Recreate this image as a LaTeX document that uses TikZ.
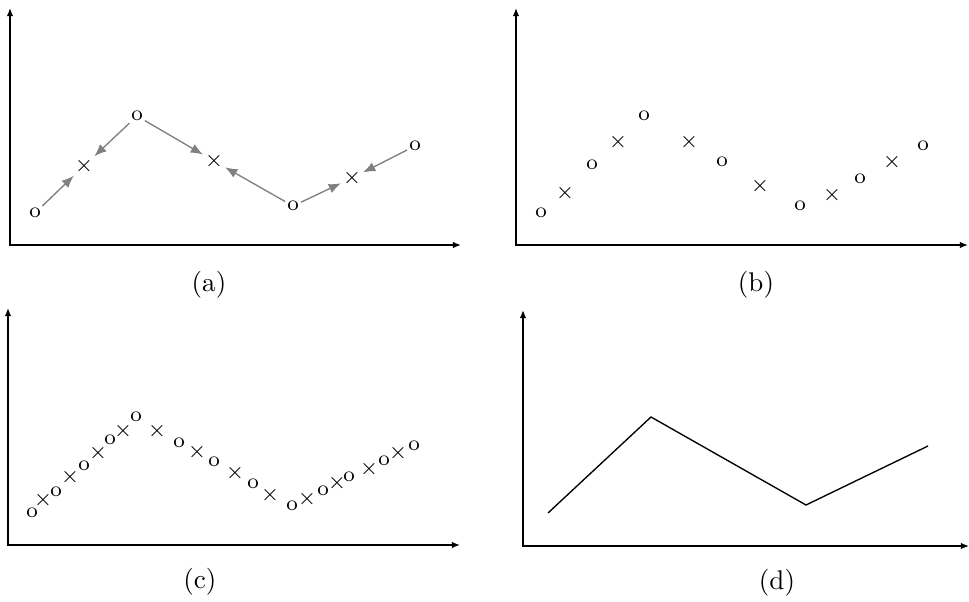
\documentclass[tikz,border=0pt]{standalone}
\usepackage{tikz}
\usetikzlibrary{arrows.meta}
\newcommand{\smpo}{o}
\newcommand{\smpx}{$\times$}
\tikzset{
    axis/.style={line width=0.5pt, {Latex[length=3pt,width=2.4pt]}-{Latex[length=3pt,width=2.4pt]}},
    marker/.style={font=\footnotesize, inner sep=0.6pt},
    flow/.style={gray, line width=0.5pt, -{Latex[length=4.5pt,width=3.6pt]}},
    panellabel/.style={align=center}
}

\begin{document}
\begin{tikzpicture}[x=0.37pt, y=0.37pt]
    \useasboundingbox (0,0) rectangle (969,601);

    % (a) samples and their moves
    \begin{scope}[shift={(10,356)}]
        \draw[axis] (0,237) |- (451,0);
        \node[marker] (a1) at (25,32) {\smpo};
        \node[marker] (ax1) at (74,79) {\smpx};
        \node[marker] (a2) at (127,129) {\smpo};
        \node[marker] (ax2) at (204,84) {\smpx};
        \node[marker] (a3) at (283,39) {\smpo};
        \node[marker] (ax3) at (342,67) {\smpx};
        \node[marker] (a4) at (405,99) {\smpo};

        \draw[flow] (a1) -- (ax1);
        \draw[flow] (a2) -- (ax1);
        \draw[flow] (a2) -- (ax2);
        \draw[flow] (a3) -- (ax2);
        \draw[flow] (a3) -- (ax3);
        \draw[flow] (a4) -- (ax3);

        \node[panellabel] (la) at (199,-40) {(a)};
    \end{scope}

    % (b)
    \begin{scope}[shift={(516,356)}]
        \draw[axis] (0,237) |- (452,0);
        \foreach \m/\x/\y [count=\i] in {\smpo/25/32, \smpx/49/52, \smpo/76/80,
                \smpx/102/103, \smpo/128/129, \smpx/173/103, \smpo/206/83,
                \smpx/244/59, \smpo/284/39, \smpx/316/50, \smpo/344/66,
                \smpx/376/83, \smpo/407/99}
            \node[marker] (b\i) at (\x,\y) {\m};
        \node[panellabel] (lb) at (240,-40) {(b)};
    \end{scope}

    % (c)
    \begin{scope}[shift={(8,56)}]
        \draw[axis] (0,237) |- (452,0);
        \foreach \m/\x/\y [count=\i] in {\smpo/24/32, \smpx/35/45, \smpo/48/53,
                \smpx/62/68, \smpo/76/79, \smpx/90/92, \smpo/102/105,
                \smpx/115/114, \smpo/128/128, \smpx/149/114, \smpo/171/102,
                \smpx/189/93, \smpo/206/83, \smpx/227/72, \smpo/245/61,
                \smpx/262/50, \smpo/284/39, \smpx/299/46, \smpo/315/54,
                \smpx/329/62, \smpo/341/68, \smpx/361/76, \smpo/376/84,
                \smpx/390/92, \smpo/406/99}
            \node[marker] (c\i) at (\x,\y) {\m};
        \node[panellabel] (lc) at (192,-37) {(c)};
    \end{scope}

    % (d)
    \begin{scope}[shift={(523,55)}]
        \draw[axis] (0,236) |- (446,0);
        \coordinate (d1) at (25,33);
        \coordinate (d2) at (128,129);
        \coordinate (d3) at (283,41);
        \coordinate (d4) at (405,100);
        \draw[line width=0.5pt] (d1) -- (d2) -- (d3) -- (d4);
        \node[panellabel] (ld) at (254,-37) {(d)};
    \end{scope}
\end{tikzpicture}
\end{document}
